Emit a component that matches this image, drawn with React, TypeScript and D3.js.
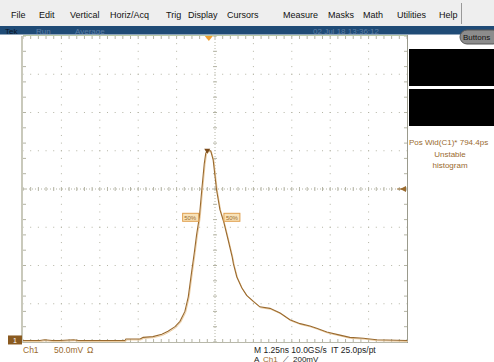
import * as d3 from "d3";
import React from "react";

// waveform: time (ns, 0 = screen centre), level (mV, 0 = screen centre)
const timeNs = [
  -6.25, -5.7, -5.55, -5.3, -5.05, -4.6, -4.45, -3.74, -2.93, -2.9, -2.44, -2.34, -2.02, -1.73,
  -1.53, -1.3, -1.14, -0.98, -0.87, -0.76, -0.67, -0.6, -0.51, -0.43, -0.35, -0.3, -0.22, -0.14,
  -0.06, 0.05, 0.16, 0.29, 0.43, 0.56, 0.6, 0.71, 0.87, 1.03, 1.25, 1.46, 1.79, 2.12, 2.44, 2.77,
  3.09, 3.31, 3.64, 4.07, 4.39, 4.83, 5.26, 6.25,
];
const levelMv = [
  -198, -198, -197, -198, -198, -197, -198, -198, -198, -196, -196, -194, -193, -190,
  -186, -180, -173, -160, -141, -108, -82, -60, -37, -1, 33, 47, 50, 50,
  38, -1, -27, -44, -67, -89, -98, -115, -129, -139, -147, -154, -156, -162, -171, -176,
  -179, -182, -187, -191, -194, -195, -197, -198,
];

const menuItems = ["File", "Edit", "Vertical", "Horiz/Acq", "Trig", "Display", "Cursors", "Measure", "Masks", "Math", "Utilities", "Help"];
const menuX = [11, 39, 70, 110, 166, 188, 227, 283, 328, 363, 397, 439];
const measureLines = ["Pos Wid(C1)* 794.4ps", "Unstable", "histogram"];

const W = 494;
const H = 362;
const plot = { left: 23, right: 407, top: 36, bottom: 342 };
const brown = "#9a6a2e";

export default function App() {
  const x = d3.scaleLinear().domain([-6.25, 6.25]).range([plot.left, plot.right]);
  const y = d3.scaleLinear().domain([-200, 200]).range([plot.bottom, plot.top]);

  const pts = timeNs.map((t, i) => [t, levelMv[i]] as [number, number]);
  const line = d3.line<[number, number]>().x(d => x(d[0])).y(d => y(d[1]));
  const path = line(pts) || "";

  const majX = d3.range(-6.25, 6.26, 1.25);
  const majY = d3.range(-200, 201, 50);
  const minX = d3.range(-6.25, 6.26, 0.25);
  const minY = d3.range(-200, 201, 10);
  const dot = "#b4b4a4";

  const peakT = -0.22;
  const halfLv = -37;

  return (
    <svg width={W} height={H} style={{ position: "fixed", left: 0, top: 0 }} fontFamily="Liberation Sans, Arial, sans-serif">
      <rect width={W} height={H} fill="#ffffff" />
      {/* menu bar */}
      <rect width={W} height={26} fill="#eeeeee" />
      {menuItems.map((m, i) => (
        <text key={m} x={menuX[i]} y={18} fontSize={9} fill="#111">{m}</text>
      ))}
      <line x1={461.5} x2={461.5} y1={3} y2={24} stroke="#999" />
      {/* status bar */}
      <rect y={26} width={W} height={8.5} fill="#1f4b76" />
      <g fontFamily="Liberation Sans Narrow, Liberation Sans, sans-serif" fontSize={8}>
        <text x={5} y={33.5} fill="#0a1424">Tek</text>
        <text x={36} y={33.5} fill="#5c7ea3">Run</text>
        <text x={75} y={33.5} fill="#5c7ea3">Average</text>
        <text x={313} y={33.5} fill="#5c7ea3" textLength={66}>02 Jul 18 13:36:12</text>
      </g>
      {/* buttons pill */}
      <rect x={460} y={30} width={40} height={14} rx={7} fill="#8c8c8c" stroke="#555" />
      <text x={463} y={40} fontSize={8} fill="#111">Buttons</text>
      {/* black readout boxes */}
      <rect x={409} y={49} width={85} height={37} fill="#000" />
      <rect x={409} y={89} width={85} height={37} fill="#000" />
      {measureLines.map((s, i) => (
        <text key={s} x={i === 0 ? 409 : 450} y={145 + i * 11.5} fontSize={8} fill={brown}
          textAnchor={i === 0 ? "start" : "middle"}>{s}</text>
      ))}

      {/* graticule: dotted division lines */}
      {majX.filter(t => t !== 0 && Math.abs(t) < 6.2).map(t => (
        <g key={"vx" + t}>
          {minY.map(v => <rect key={v} x={x(t) - 0.5} y={y(v) - 0.5} width={1} height={1} fill={dot} />)}
        </g>
      ))}
      {majY.filter(v => v !== 0 && Math.abs(v) < 200).map(v => (
        <g key={"hy" + v}>
          {minX.map(t => <rect key={t} x={x(t) - 0.5} y={y(v) - 0.5} width={1} height={1} fill={dot} />)}
        </g>
      ))}
      {/* centre axes with minor ticks */}
      {minX.map(t => (
        <line key={"cx" + t} x1={x(t)} x2={x(t)} y1={y(0) - 2} y2={y(0) + 2} stroke={dot} />
      ))}
      {minY.filter((_, i) => i % 2 === 0).map(v => (
        <line key={"cy" + v} x1={x(0) - 2} x2={x(0) + 2} y1={y(v)} y2={y(v)} stroke={dot} />
      ))}
      <line x1={plot.left} x2={plot.right} y1={y(0)} y2={y(0)} stroke={dot} strokeDasharray="1 2" />
      <line x1={x(0)} x2={x(0)} y1={plot.top} y2={plot.bottom} stroke={dot} strokeDasharray="1 2" />
      {/* edge ticks */}
      {minX.map(t => (
        <g key={"et" + t}>
          <line x1={x(t)} x2={x(t)} y1={plot.top} y2={plot.top + 3} stroke={dot} />
          <line x1={x(t)} x2={x(t)} y1={plot.bottom - 3} y2={plot.bottom} stroke={dot} />
        </g>
      ))}
      {minY.filter((_, i) => i % 2 === 0).map(v => (
        <g key={"ev" + v}>
          <line x1={plot.left} x2={plot.left + 3} y1={y(v)} y2={y(v)} stroke={dot} />
          <line x1={plot.right - 3} x2={plot.right} y1={y(v)} y2={y(v)} stroke={dot} />
        </g>
      ))}
      {/* frame */}
      <line x1={plot.left - 1} x2={plot.left - 1} y1={plot.top} y2={plot.bottom + 1} stroke="#c9c9bb" strokeWidth={2} />
      <line x1={plot.right + 0.5} x2={plot.right + 0.5} y1={plot.top - 1} y2={plot.bottom + 1} stroke="#9a9a8c" />
      <line x1={plot.left} x2={plot.right} y1={plot.bottom + 0.5} y2={plot.bottom + 0.5} stroke="#b8b8aa" />
      <line x1={plot.left} x2={plot.right} y1={plot.top - 0.5} y2={plot.top - 0.5} stroke="#b9c9a9" />

      {/* waveform */}
      <path d={path} fill="none" stroke="#ecccA0" strokeWidth={1} transform="translate(0.8,1)" />
      <path d={path} fill="none" stroke={brown} strokeWidth={1.1} />
      {/* peak marker */}
      <path d={`M${x(peakT) - 4},${y(50) - 2}h6l-3,5z`} fill="#7a4a18" />

      {/* 50% crossing labels */}
      <g fontSize={6} fill={brown}>
        <rect x={x(-0.5) - 17} y={y(halfLv) - 4} width={16} height={8} fill="#f8e2b8" stroke="#e0a050" />
        <text x={x(-0.5) - 15.5} y={y(halfLv) + 2.5}>50%</text>
        <rect x={x(0.29) + 0} y={y(halfLv) - 4} width={16} height={8} fill="#f8e2b8" stroke="#e0a050" />
        <text x={x(0.29) + 2} y={y(halfLv) + 2.5}>50%</text>
      </g>

      {/* trigger position / level / ground markers */}
      <path d={`M${x(-0.2) - 4},${plot.top}h8l-4,5z`} fill="#f0a030" />
      <path d={`M${plot.right - 1},${y(0) - 3}v6l-6,-3z`} fill={brown} />
      <line x1={plot.right - 10} x2={plot.right - 4} y1={y(0)} y2={y(0)} stroke={brown} />
      <rect x={8} y={y(-198) - 5} width={14} height={9} fill="#8a5a20" />
      <text x={15} y={y(-198) + 3} fontSize={7} fill="#fff" textAnchor="middle">1</text>

      {/* bottom readouts */}
      <g fontSize={8.5}>
        <text x={23} y={353} fill={brown}>Ch1</text>
        <text x={54} y={353} fill={brown}>50.0mV</text>
        <text x={87} y={353} fill={brown}>Ω</text>
        <text x={254} y={353} fill="#222">M 1.25ns 10.0GS/s</text>
        <text x={331} y={353} fill="#222">IT 25.0ps/pt</text>
        <text x={254} y={362} fontSize={8} fill="#222">A</text>
        <text x={263} y={362} fontSize={8} fill={brown}>Ch1</text>
        <text x={283} y={362} fontSize={8} fill="#222">⟋</text>
        <text x={293} y={362} fontSize={8} fill="#222">200mV</text>
      </g>
    </svg>
  );
}
